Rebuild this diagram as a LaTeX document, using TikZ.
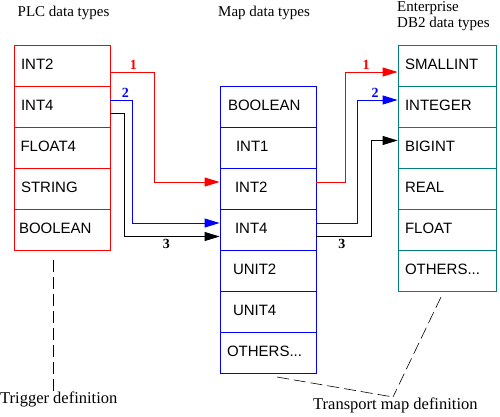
\documentclass[tikz,border=0pt]{standalone}
\usepackage{fontspec}
\setmainfont{Liberation Serif}
\setsansfont{Liberation Sans}
\usetikzlibrary{arrows.meta}
\definecolor{tealbox}{RGB}{0,128,128}
\tikzset{
  cell/.style={draw, line width=0.8pt, minimum height=41pt, text width=96pt, inner xsep=0pt,
    inner ysep=0pt, align=left, text height=11pt, text depth=4pt, text=black,
    font=\sffamily\fontsize{15}{18}\selectfont},
  plc/.style={cell, draw=red},
  mapc/.style={cell, draw=blue},
  dbc/.style={cell, draw=tealbox, text width=98pt},
  conn/.style={line width=0.8pt, -{Triangle[length=15pt,width=9pt]}},
  num/.style={font=\bfseries\fontsize{14}{16}\selectfont, inner sep=2pt},
  head/.style={font=\fontsize{15}{17}\selectfont, inner sep=0pt},
  foot/.style={font=\fontsize{16.5}{18}\selectfont, inner sep=0pt},
  dashline/.style={line width=0.6pt, dash pattern=on 12pt off 5pt}
}
\begin{document}
\begin{tikzpicture}[x=1pt,y=-1pt]
\useasboundingbox (0,0) rectangle (500,416);
% headers
\node[head, anchor=base] (h1) at (63.5,16) {PLC data types};
\node[head, anchor=base west] (h2) at (218,16) {Map data types};
\node[head, anchor=base west] (h3) at (397,11) {Enterprise};
\node[head, anchor=base west] (h4) at (397,27.5) {DB2 data types};
% PLC box
\node[plc] (L1) at (62,65.5)  {\hspace*{7pt}INT2};
\node[plc] (L2) at (62,106.5) {\hspace*{7pt}INT4};
\node[plc] (L3) at (62,147.5) {\hspace*{6.5pt}FLOAT4};
\node[plc] (L4) at (62,188.5) {\hspace*{7pt}STRING};
\node[plc] (L5) at (62,229.5) {\hspace*{5pt}BOOLEAN};
% Map box
\node[mapc] (M1) at (268,106.5) {\hspace*{8pt}BOOLEAN};
\node[mapc] (M2) at (268,147.5) {\hspace*{16pt}INT1};
\node[mapc] (M3) at (268,188.5) {\hspace*{15pt}INT2};
\node[mapc] (M4) at (268,229.5) {\hspace*{15pt}INT4};
\node[mapc] (M5) at (268,270.5) {\hspace*{13pt}UNIT2};
\node[mapc] (M6) at (268,311.5) {\hspace*{13pt}UNIT4};
\node[mapc] (M7) at (268,352.5) {\hspace*{7pt}OTHERS...};
% DB2 box
\node[dbc] (R1) at (447,65.5)  {\hspace*{7pt}SMALLINT};
\node[dbc] (R2) at (447,106.5) {\hspace*{7pt}INTEGER};
\node[dbc] (R3) at (447,147.5) {\hspace*{7pt}BIGINT};
\node[dbc] (R4) at (447,188.5) {\hspace*{7pt}REAL};
\node[dbc] (R5) at (447,229.5) {\hspace*{7pt}FLOAT};
\node[dbc] (R6) at (447,270.5) {\hspace*{7pt}OTHERS...};
% connectors
\draw[conn, red] ([yshift=-6.5pt]L1.east) -- ++(44,0) node[midway, above, num, xshift=1pt] (n1a) {1}
  |- ([yshift=6.5pt]M3.west);
\draw[conn, red] ([yshift=6.5pt]M3.east) -- ++(28.7,0) |- ([yshift=-6.5pt]R1.west)
  node[pos=0.7, above, num] (n1b) {1};
\draw[conn, blue] ([yshift=6.5pt]L2.east) -- ++(22,0) node[midway, above, num, xshift=4pt] (n2a) {2}
  |- ([yshift=6.5pt]M4.west);
\draw[conn, blue] ([yshift=6.5pt]M4.east) -- ++(41,0) |- ([yshift=6.5pt]R2.west)
  node[pos=0.72, above, num] (n2b) {2};
\draw[conn, black] ([yshift=-6.5pt]L2.east) -- ++(14,0) |- ([yshift=-7pt]M4.west)
  node[pos=0.72, below, num] (n3a) {3};
\draw[conn, black] ([yshift=-7pt]M4.east) -- ++(55,0) node[midway, below, num, xshift=-2pt] (n3b) {3}
  |- ([yshift=7pt]R3.west);
% footers
\node[foot, anchor=base west] (t1) at (0,403.3) {Trigger definition};
\node[foot, anchor=base west] (t2) at (313,409) {Transport map definition};
\coordinate (d1) at (53,260);
\coordinate (d2) at (53,395);
\coordinate (e1) at (277,377);
\coordinate (e2) at (441,297);
\coordinate (em) at (393,397);
\draw[dashline] (d1) -- (d2);
\draw[dashline] (e1) -- (em);
\draw[dashline] (e2) -- (em);
\end{tikzpicture}
\end{document}
